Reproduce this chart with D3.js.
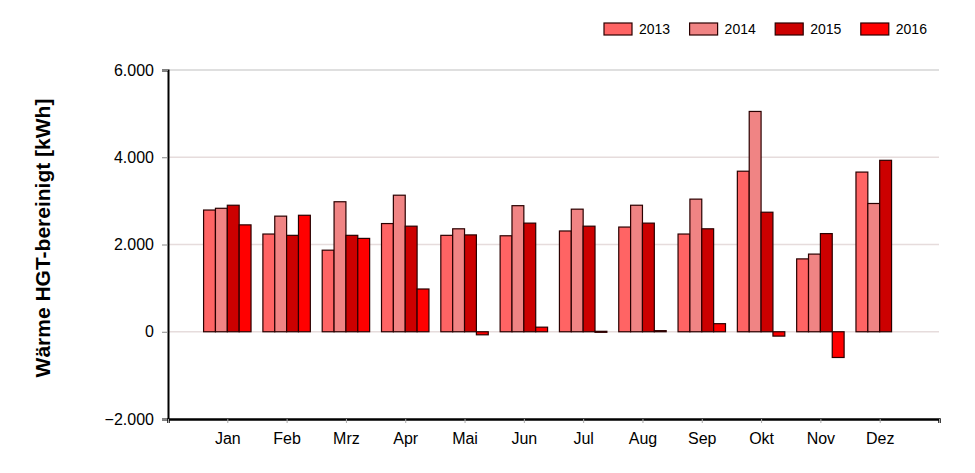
<!DOCTYPE html>
<html>
<head>
<meta charset="utf-8">
<script src="https://cdn.jsdelivr.net/npm/d3@7"></script>
<style>
  html, body { margin: 0; padding: 0; background: #fff; }
  svg { display: block; font-family: "Liberation Sans", Arial, sans-serif; }
</style>
</head>
<body>
<svg id="chart" width="975" height="473"></svg>
<script>
const months = ["Jan","Feb","Mrz","Apr","Mai","Jun","Jul","Aug","Sep","Okt","Nov","Dez"];
const seriesNames = ["2013","2014","2015","2016"];
const v2013 = [2790, 2240, 1870, 2480, 2210, 2200, 2310, 2400, 2240, 3680, 1670, 3660];
const v2014 = [2830, 2650, 2980, 3130, 2360, 2890, 2810, 2900, 3040, 5050, 1780, 2940];
const v2015 = [2900, 2210, 2210, 2420, 2220, 2490, 2420, 2490, 2360, 2740, 2250, 3930];
const v2016 = [2450, 2670, 2140, 980, -70, 105, 10, 25, 185, -100, -590, null];
const seriesValues = [v2013, v2014, v2015, v2016];
const colors = ["#ff6464", "#f08484", "#cc0000", "#ff0000"];
const yTicks = [-2000, 0, 2000, 4000, 6000];

const svg = d3.select("#chart");
const x = d3.scaleLinear().domain([0, 13]).range([168, 939]);
const y = d3.scaleLinear().domain([-2000, 6000]).range([419, 70]);
const loc = d3.formatLocale({decimal: ",", thousands: ".", grouping: [3], currency: ["", "€"]});
const fmt = loc.format(",d");

// gridlines
svg.append("g").selectAll("line").data(yTicks.filter(d => d > -2000)).join("line")
  .attr("x1", x(0)).attr("x2", x(13))
  .attr("y1", d => y(d)).attr("y2", d => y(d))
  .attr("stroke", d => d === 6000 ? "#d4d4d4" : "#e6dcdc").attr("stroke-width", 1.5);

// bars
const step = x(1) - x(0);
const groupW = step * 0.8;
const barW = groupW / 4;
seriesValues.forEach((vals, j) => {
  svg.append("g").selectAll("rect")
    .data(vals.map((v, i) => ({v, i})).filter(d => d.v !== null))
    .join("rect")
    .attr("x", d => x(d.i + 1) - groupW / 2 + j * barW)
    .attr("width", barW)
    .attr("y", d => Math.min(y(d.v), y(0)))
    .attr("height", d => Math.max(1, Math.abs(y(d.v) - y(0))))
    .attr("fill", colors[j])
    .attr("stroke", "#2a0000")
    .attr("stroke-width", 1.2);
});

// y axis
const yAxis = d3.axisLeft(y).tickValues(yTicks).tickFormat(fmt).tickSize(6).tickPadding(8);
const gy = svg.append("g").attr("transform", `translate(${x(0)},0)`).call(yAxis);
gy.select(".domain").attr("stroke", "#000").attr("stroke-width", 2);
gy.selectAll(".tick line").attr("stroke", "#888");
gy.selectAll(".tick text").attr("font-size", 16).attr("fill", "#000")
  .attr("font-family", "Liberation Sans, Arial, sans-serif");

// x axis
const xAxis = d3.axisBottom(x).tickValues(d3.range(0, 14))
  .tickFormat(d => (d >= 1 && d <= 12) ? months[d - 1] : "").tickSize(4).tickPadding(10);
const gx = svg.append("g").attr("transform", `translate(0,${y(-2000)})`).call(xAxis);
gx.select(".domain").attr("stroke", "#000").attr("stroke-width", 2.5);
gx.selectAll(".tick line").attr("stroke", "#aaa");
gx.selectAll(".tick text").attr("font-size", 16).attr("fill", "#000")
  .attr("font-family", "Liberation Sans, Arial, sans-serif");

// axis title
svg.append("text")
  .attr("transform", "translate(50,238) rotate(-90)")
  .attr("text-anchor", "middle")
  .attr("font-size", 21).attr("font-weight", "bold").attr("fill", "#000")
  .text("Wärme HGT-bereinigt [kWh]");

// legend
const leg = svg.append("g").selectAll("g").data(seriesNames).join("g")
  .attr("transform", (d, i) => `translate(${604 + i * 85.6},23)`);
leg.append("rect").attr("width", 28).attr("height", 12)
  .attr("fill", (d, i) => colors[i]).attr("stroke", "#2a0000").attr("stroke-width", 1.2);
leg.append("text").attr("x", 35).attr("y", 11).attr("font-size", 14).attr("fill", "#000")
  .text(d => d);
</script>
</body>
</html>
